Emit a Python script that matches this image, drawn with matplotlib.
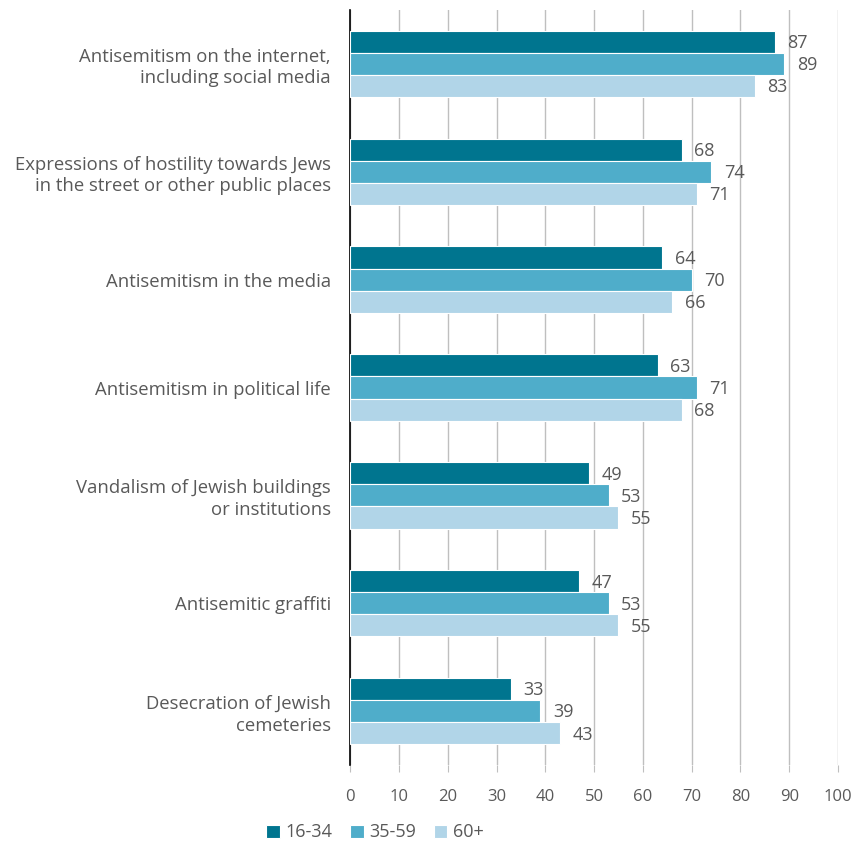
import matplotlib.pyplot as plt
import numpy as np

categories = [
    'Antisemitism on the internet,\nincluding social media',
    'Expressions of hostility towards Jews\nin the street or other public places',
    'Antisemitism in the media',
    'Antisemitism in political life',
    'Vandalism of Jewish buildings\nor institutions',
    'Antisemitic graffiti',
    'Desecration of Jewish\ncemeteries',
]
age_groups = ['16-34', '35-59', '60+']
values_16_34 = [87, 68, 64, 63, 49, 47, 33]
values_35_59 = [89, 74, 70, 71, 53, 53, 39]
values_60_plus = [83, 71, 66, 68, 55, 55, 43]
colors = ['#00758f', '#4fadca', '#b1d5e8']
text_color = '#595959'

plt.rcParams['font.family'] = ['Open Sans', 'DejaVu Sans']

fig = plt.figure(figsize=(8.52, 8.46), dpi=100)
ax = fig.add_axes([0.411, 0.0957, 0.5726, 0.8925])

y = np.arange(len(categories))
h = 0.205
series = [values_16_34, values_35_59, values_60_plus]
for i, (vals, name) in enumerate(zip(series, age_groups)):
    bars = ax.barh(y + (i - 1) * h, vals, height=h, color=colors[i],
                   edgecolor='white', linewidth=0.8, label=name, zorder=3)
    for b, v in zip(bars, vals):
        ax.annotate(str(v), (b.get_width(), b.get_y() + b.get_height() / 2),
                    xytext=(9, -1), textcoords='offset points', va='center',
                    ha='left', fontsize=13, color=text_color, zorder=4)

ax.set_xlim(0, 100)
ax.set_ylim(len(categories) - 0.5, -0.5)
ax.set_xticks(range(0, 101, 10))
ax.set_yticks(y)
ax.set_yticklabels(categories, fontsize=13.3, color=text_color, ha='right',
                   linespacing=1.25)
ax.tick_params(axis='y', length=0, pad=14)
ax.tick_params(axis='x', length=5, color='#bfbfbf', labelcolor=text_color,
               labelsize=12, pad=12)
ax.grid(axis='x', color='#bfbfbf', linewidth=1, zorder=0)
for s in ['top', 'right', 'bottom']:
    ax.spines[s].set_visible(False)
ax.spines['left'].set_color('black')
ax.spines['left'].set_linewidth(1.2)

leg = fig.legend(loc='center', bbox_to_anchor=(0.44, 0.016), ncol=3, frameon=False,
                 fontsize=13, handlelength=0.75, handleheight=0.75, handletextpad=0.3,
                 columnspacing=1.0)
for t in leg.get_texts():
    t.set_color(text_color)

fig.savefig('out.png', dpi=100)
